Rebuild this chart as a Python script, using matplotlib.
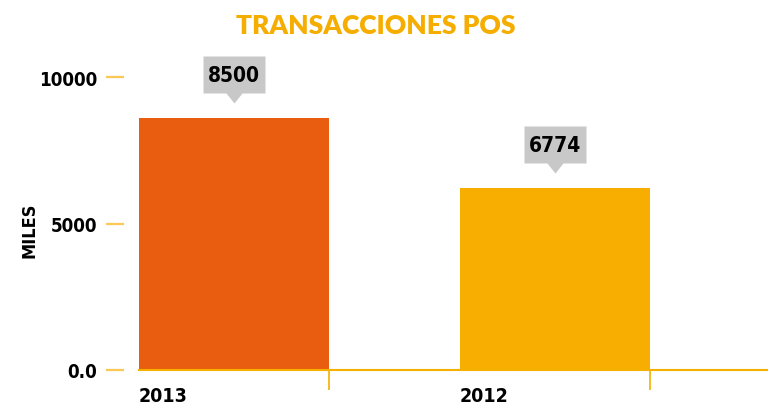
import matplotlib
matplotlib.use("Agg")
import matplotlib.pyplot as plt
from matplotlib import font_manager
from matplotlib.font_manager import FontProperties
from matplotlib.transforms import offset_copy

# datos
years = ["2013", "2012"]
bar_heights = [8600, 6200]          # altura dibujada de cada barra
value_labels = ["8500", "6774"]     # valor que muestra cada etiqueta
bar_colors = ["#E85D0F", "#F7AE00"]
y_ticks = [0, 5000, 10000]
y_tick_labels = ["0.0", "5000", "10000"]

# buscar una fuente negrita estrecha instalada
order = {"ultra-condensed": 0, "extra-condensed": 1, "condensed": 2,
         "semi-condensed": 3}
cands = []
for f in font_manager.fontManager.ttflist:
    w = f.weight if isinstance(f.weight, int) else 700
    if w < 600 or "italic" in f.style or "oblique" in f.style:
        continue
    name = f.name.lower()
    if f.stretch in order:
        cands.append((order[f.stretch], abs(w - 700), f.fname))
    elif "narrow" in name or "condensed" in name:
        cands.append((2, abs(w - 700), f.fname))
cands.sort()
if cands:
    narrow_fp = FontProperties(fname=cands[0][2])
else:
    narrow_fp = FontProperties(family="DejaVu Sans", stretch="condensed",
                               weight="bold")


def nf(size):
    fp = narrow_fp.copy()
    fp.set_size(size)
    return fp


W, H = 768, 410
px = 0.72  # points per pixel at dpi 100

fig = plt.figure(figsize=(W / 100, H / 100), dpi=100)
# axes: left at x=139, bottom at y=371, top at y=60
ax = fig.add_axes([139 / W, (H - 371) / H, 1 - 139 / W, (371 - 60) / H])

width = 190 / 321
xs = list(range(len(years)))
ax.bar(xs, bar_heights, width=width, color=bar_colors, zorder=1)

ax.set_xlim(-width / 2, -width / 2 + 629 / 321)
ax.set_ylim(0, 311 / 293 * 10000)

for s in ["top", "right"]:
    ax.spines[s].set_visible(False)
ax.spines["left"].set_visible(False)
ax.spines["left"].set_position(("outward", 15 * px))
ax.spines["bottom"].set_color("#F5B000")
ax.spines["bottom"].set_linewidth(1.5)

ax.set_yticks(y_ticks)
ax.set_yticklabels(y_tick_labels, fontproperties=nf(13.5))
ax.tick_params(axis="y", length=18 * px, width=1.6, color="#F9C855",
               pad=9 * px, labelcolor="black")

# etiquetas de categoria alineadas al borde izquierdo de la barra
ax.set_xticks([x - width / 2 for x in xs])
ax.set_xticklabels(years, fontproperties=nf(14), ha="left")
ax.tick_params(axis="x", which="major", length=0, pad=16 * px)
ax.set_xticks([x + width / 2 for x in xs], minor=True)
ax.tick_params(axis="x", which="minor", length=20 * px, width=1.2,
               color="#F5B000")

# cajas grises con puntero
callout = [(0, 0), (8, 10), (31, 10), (31, 47), (-31, 47), (-31, 10), (-8, 10)]
for x, h, lab in zip(xs, bar_heights, value_labels):
    tr = offset_copy(ax.transData, fig=fig, y=15, units="dots")
    ax.plot(x, h, marker=callout, markersize=94 * px, color="#C8C8C8",
            markeredgewidth=0, transform=tr, clip_on=False, zorder=3)
    tr2 = offset_copy(ax.transData, fig=fig, y=15 + 28.5, units="dots")
    ax.text(x, h, lab, transform=tr2, ha="center", va="center",
            fontproperties=nf(15), zorder=4)

fig.text(29 / W, (H - 230) / H, "MILES", rotation=90, ha="center",
         va="center", fontproperties=nf(13))
fig.text(376 / W, 1 - 26 / H, "TRANSACCIONES POS", ha="center", va="center",
         fontsize=19, family="Lato", weight="heavy", color="#F5AD00")

fig.savefig("out.png", dpi=100)
